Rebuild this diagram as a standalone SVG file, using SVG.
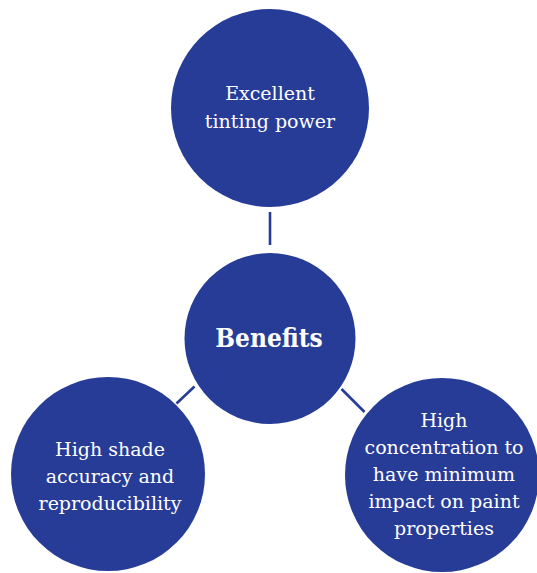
<svg xmlns="http://www.w3.org/2000/svg" width="537" height="573" viewBox="0 0 537 573">
  <style>
    .node { fill: #273C97; }
    .conn { stroke: #273C97; stroke-width: 2.6; fill: none; }
    .lbl { font-family: "DejaVu Serif", "Liberation Serif", serif; font-size: 19px; fill: #ffffff; text-anchor: middle; }
    .hub { font-family: "DejaVu Serif", "Liberation Serif", serif; font-size: 26px; font-weight: bold; font-stretch: condensed; fill: #ffffff; text-anchor: middle; }
  </style>
  <rect width="537" height="573" fill="#ffffff"/>
  <g id="connectors">
    <line class="conn" x1="270" y1="212" x2="270" y2="245"/>
    <line class="conn" x1="176.5" y1="403.5" x2="194.5" y2="386.5"/>
    <line class="conn" x1="341.5" y1="389" x2="364.5" y2="412"/>
  </g>
  <g id="node-top">
    <circle class="node" cx="270" cy="108" r="99"/>
    <text class="lbl" x="270" y="100">Excellent</text>
    <text class="lbl" x="270" y="127.5">tinting power</text>
  </g>
  <g id="node-center">
    <circle class="node" cx="270" cy="338.5" r="85.5"/>
    <text class="hub" x="269" y="346.5">Benefits</text>
  </g>
  <g id="node-left">
    <circle class="node" cx="108" cy="474" r="97"/>
    <text class="lbl" x="110" y="456">High shade</text>
    <text class="lbl" x="110" y="482.5">accuracy and</text>
    <text class="lbl" x="110" y="509.5">reproducibility</text>
  </g>
  <g id="node-right">
    <circle class="node" cx="442" cy="475" r="97"/>
    <text class="lbl" x="444" y="427">High</text>
    <text class="lbl" x="444" y="454">concentration to</text>
    <text class="lbl" x="444" y="481">have minimum</text>
    <text class="lbl" x="444" y="508">impact on paint</text>
    <text class="lbl" x="444" y="535">properties</text>
  </g>
</svg>
